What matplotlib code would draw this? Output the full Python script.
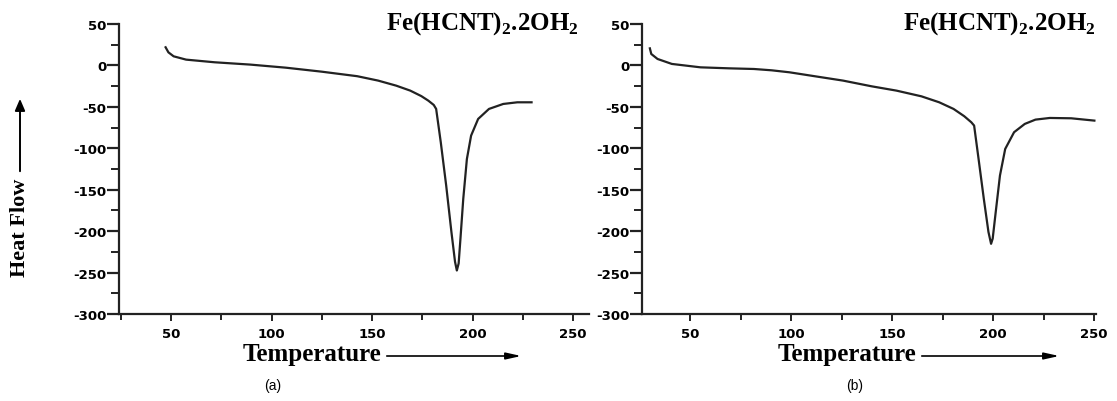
"""
DSC curves of Fe(HCNT)2.2OH2, two panels (a) and (b)
output: out.png
"""
import numpy as np
import matplotlib
matplotlib.use('Agg')
import matplotlib.pyplot as plt
from matplotlib.patches import FancyArrowPatch
from matplotlib.ticker import MultipleLocator

plt.rcParams['axes.unicode_minus'] = False
plt.rcParams['mathtext.fontset'] = 'custom'
plt.rcParams['mathtext.rm'] = 'Liberation Serif'
plt.rcParams['mathtext.bf'] = 'Liberation Serif:bold'

# panel (a) - temperature / heat flow
temp_a = [47.2, 48.6, 51.2, 57.4, 71.6, 89.4, 107.0, 124.8, 142.6, 153.0, 162.0,
          169.0, 174.5, 178.0, 180.7, 181.9, 184.2, 186.9, 189.5, 191.3, 192.2,
          193.1, 194.0, 195.4, 197.2, 199.3, 202.8, 208.2, 215.3, 222.3, 229.4]
flow_a = [21.9, 15.8, 11.0, 7.0, 3.8, 1.0, -2.7, -7.5, -13.0, -18.3, -24.4,
          -30.4, -37.0, -42.5, -47.7, -52.5, -92.7, -145.0, -201.0, -237.0, -247.5,
          -239.0, -209.0, -161.0, -113.0, -84.7, -64.6, -52.5, -46.5, -44.5, -44.5]

# panel (b)
temp_b = [29.9, 30.6, 33.7, 40.8, 55.0, 69.1, 81.5, 90.3, 99.1, 111.5, 125.6,
          139.8, 152.1, 164.5, 173.3, 180.4, 185.7, 189.2, 190.6, 192.8, 195.4,
          197.7, 199.0, 199.8, 201.3, 203.4, 206.0, 210.4, 215.7, 221.0, 228.1,
          238.7, 250.2]
flow_b = [20.6, 13.8, 7.8, 1.8, -2.3, -3.5, -4.3, -5.9, -8.3, -13.0, -18.3,
          -25.2, -30.4, -37.3, -44.5, -52.5, -61.3, -68.6, -72.6, -112.8, -161.0,
          -201.0, -215.3, -209.0, -177.0, -132.9, -100.8, -80.6, -70.6, -65.4, -63.4,
          -63.8, -66.6]

y_ticks = [50, 0, -50, -100, -150, -200, -250, -300]
x_ticks = [50, 100, 150, 200, 250]
compound = r'Fe(HCNT)$_\mathbf{2}$.2OH$_\mathbf{2}$'

W, H = 1117, 402
fig = plt.figure(figsize=(W / 100, H / 100), dpi=100, facecolor='white')

def px(x0, y0, x1, y1):
    # pixel box -> figure fraction [left, bottom, width, height]
    return [x0 / W, 1 - y1 / H, (x1 - x0) / W, (y1 - y0) / H]

def style(ax, xlim):
    ax.set_xlim(*xlim)
    ax.set_ylim(-300, 50)
    for s in ['top', 'right']:
        ax.spines[s].set_visible(False)
    for s in ['left', 'bottom']:
        ax.spines[s].set_linewidth(1.6)
        ax.spines[s].set_color('#222')
    ax.set_yticks(y_ticks)
    ax.set_xticks(x_ticks)
    ax.yaxis.set_minor_locator(MultipleLocator(25))
    ax.xaxis.set_minor_locator(MultipleLocator(25))
    ax.tick_params(axis='y', which='major', length=9, width=1.6, direction='out',
                   labelsize=9.5, pad=0, color='#222')
    ax.tick_params(axis='y', which='minor', length=6, width=1.4, direction='out', color='#222')
    ax.tick_params(axis='x', which='major', length=5, width=1.4, direction='out',
                   labelsize=9.5, pad=4, color='#222')
    ax.tick_params(axis='x', which='minor', length=4, width=1.4, direction='out', color='#222')
    for lab in ax.get_xticklabels() + ax.get_yticklabels():
        lab.set_fontweight('heavy')
        lab.set_family('DejaVu Sans')
    ax.patch.set_alpha(0)

# (a)
ax_a = fig.add_axes(px(119, 25, 589, 315))
style(ax_a, (24, 258))
ax_a.plot(temp_a, flow_a, color='#222', lw=1.6)

# (b)
ax_b = fig.add_axes(px(642, 25, 1096, 315))
style(ax_b, (26, 251))
ax_b.plot(temp_b, flow_b, color='#222', lw=1.6)

serif = dict(family='Liberation Serif', fontweight='bold', color='black')

# titles
fig.text(386 / W, 1 - 30 / H, compound, fontsize=18, ha='left', va='baseline', **serif)
fig.text(903 / W, 1 - 30 / H, compound, fontsize=18, ha='left', va='baseline', **serif)

# x labels with arrows
for x0, x1, xe in [(243, 384, 524), (778, 919, 1062)]:
    fig.text(x0 / W, 1 - 355 / H, 'Temperature', fontsize=18, ha='left', va='center', **serif)
    fig.add_artist(FancyArrowPatch(
        (x1 / W, 1 - 357 / H), (xe / W, 1 - 357 / H), transform=fig.transFigure,
        arrowstyle='-|>,head_length=9,head_width=2', mutation_scale=1, lw=1.2, color='black'))

# y label with arrow
fig.text(20 / W, 1 - 228 / H, 'Heat Flow', fontsize=16, rotation=90, ha='center', va='center', **serif)
fig.add_artist(FancyArrowPatch(
    (20 / W, 1 - 175 / H), (20 / W, 1 - 97 / H), transform=fig.transFigure,
    arrowstyle='-|>,head_length=7,head_width=3', mutation_scale=1, lw=1.4, color='black'))

# panel letters
fig.text(273 / W, 1 - 386 / H, '(a)', fontsize=10, family='Liberation Sans', ha='center', va='center')
fig.text(855 / W, 1 - 386 / H, '(b)', fontsize=10, family='Liberation Sans', ha='center', va='center')

plt.savefig('out.png', dpi=100, facecolor='white')
plt.close()
